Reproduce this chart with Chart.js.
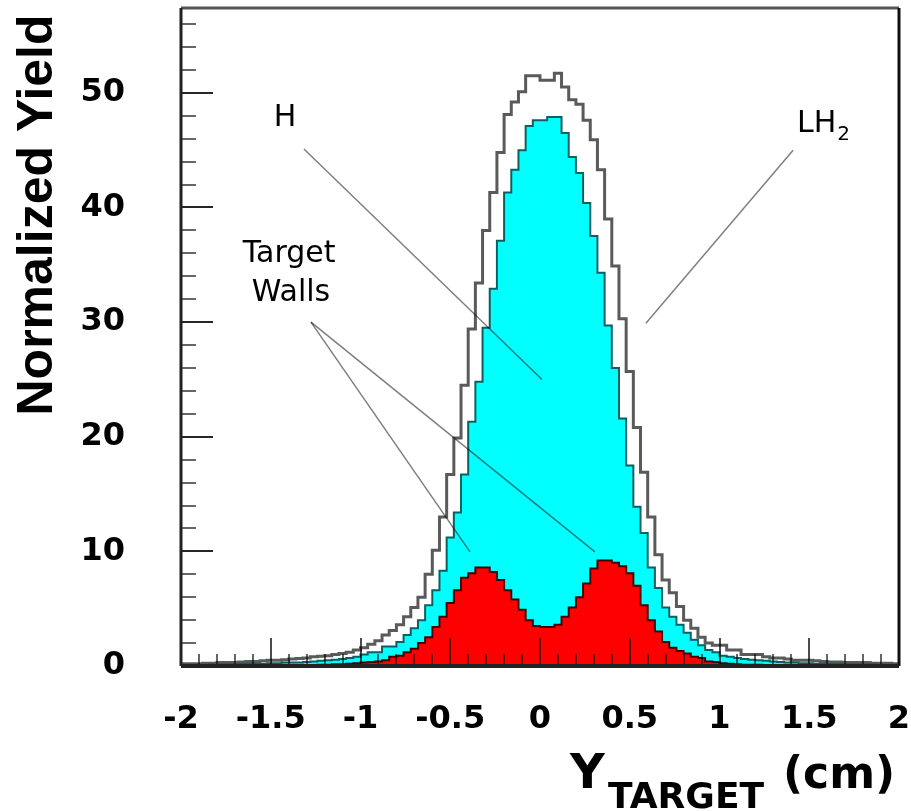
<!DOCTYPE html>
<html>
<head>
<meta charset="utf-8">
<script src="https://cdn.jsdelivr.net/npm/chart.js@4.4.0/dist/chart.umd.min.js"></script>
<style>
html,body{margin:0;padding:0;background:#fff;}
</style>
</head>
<body>
<canvas id="canvas1" width="911" height="811"></canvas>
<script>
// histogram binning (cm)
var xMin = -2, xMax = 2, binWidth = 0.04;
var xTicks = [-2, -1.5, -1, -0.5, 0, 0.5, 1, 1.5, 2];
var yTicks = [0, 10, 20, 30, 40, 50];
var yMax = 57.4;

// LH2 full target yield
var lh2 = [
	0.2, 0.2, 0.2, 0.25, 0.25, 0.3, 0.3, 0.3, 0.35, 0.4,
	0.4, 0.45, 0.5, 0.5, 0.55, 0.6, 0.65, 0.7, 0.8, 0.85,
	0.9, 1.0, 1.1, 1.2, 1.4, 1.6, 1.9, 2.2, 2.7, 3.1,
	3.6, 4.3, 5.1, 6.0, 8.0, 10.1, 13.0, 16.7, 19.9, 24.5,
	29.4, 33.4, 38.0, 41.3, 44.8, 48.1, 49.2, 50.1, 51.5, 51.5,
	51.1, 51.1, 51.7, 50.5, 49.4, 49.0, 47.6, 45.9, 43.3, 39.0,
	34.9, 30.3, 25.7, 20.8, 16.9, 13.0, 9.7, 7.5, 6.4, 5.2,
	4.0, 3.3, 2.5, 2.0, 1.8, 1.8, 1.4, 1.4, 1.0, 1.0,
	1.0, 0.8, 0.7, 0.7, 0.6, 0.5, 0.5, 0.5, 0.45, 0.4,
	0.35, 0.35, 0.3, 0.3, 0.3, 0.3, 0.25, 0.25, 0.25, 0.2
];
// H (hydrogen only)
var hydrogen = [
	0.1, 0.1, 0.1, 0.1, 0.15, 0.15, 0.15, 0.15, 0.2, 0.2,
	0.2, 0.2, 0.25, 0.25, 0.3, 0.3, 0.3, 0.35, 0.4, 0.45,
	0.5, 0.55, 0.6, 0.7, 0.8, 1.0, 1.2, 1.2, 1.7, 1.7,
	2.1, 2.7, 3.3, 4.0, 5.3, 6.6, 8.3, 11.2, 13.4, 16.7,
	21.3, 24.8, 29.5, 32.9, 37.1, 41.3, 43.3, 45.0, 47.1, 47.6,
	47.6, 47.9, 47.9, 46.5, 44.4, 43.0, 40.4, 37.5, 34.3, 29.7,
	26.0, 21.6, 17.5, 13.9, 11.6, 8.6, 6.8, 5.1, 4.3, 3.6,
	2.9, 2.3, 1.8, 1.4, 1.2, 0.9, 0.8, 0.7, 0.6, 0.55,
	0.5, 0.45, 0.4, 0.35, 0.3, 0.3, 0.25, 0.25, 0.2, 0.2,
	0.2, 0.2, 0.15, 0.15, 0.15, 0.15, 0.15, 0.1, 0.1, 0.1
];
// target walls (empty target)
var walls = [
	0.05, 0.05, 0.05, 0.05, 0.05, 0.05, 0.05, 0.05, 0.05, 0.05,
	0.05, 0.05, 0.05, 0.05, 0.05, 0.05, 0.05, 0.05, 0.05, 0.1,
	0.1, 0.15, 0.15, 0.2, 0.25, 0.3, 0.35, 0.4, 0.5, 0.8,
	0.9, 1.2, 1.5, 2.0, 2.5, 3.4, 4.3, 5.5, 6.6, 7.7,
	8.1, 8.6, 8.6, 8.2, 7.5, 6.6, 5.8, 4.9, 4.0, 3.5,
	3.4, 3.4, 3.6, 4.3, 5.1, 6.0, 7.2, 8.5, 9.2, 9.2,
	9.0, 8.7, 8.1, 7.0, 5.3, 4.0, 3.0, 2.1, 1.6, 1.3,
	1.1, 0.8, 0.7, 0.4, 0.35, 0.25, 0.2, 0.15, 0.1, 0.1,
	0.1, 0.05, 0.05, 0.05, 0.05, 0.05, 0.05, 0.05, 0.05, 0.05,
	0.05, 0.05, 0.05, 0.05, 0.05, 0.05, 0.05, 0.05, 0.05, 0.05
];

// callout lines in data units [x1, y1, x2, y2]
var callouts = [
	[-1.315, 45.1, 0.011, 25.0],
	[1.41, 45.0, 0.59, 29.9],
	[-1.276, 30.0, 0.306, 9.95],
	[-1.276, 30.0, -0.39, 9.95]
];

/**
 * bin contents -> step points at bin left edges
 */
function toPoints(vals){
	var pts = [];
	for (var i = 0; i < vals.length; i++) {
		pts.push({x: xMin + i*binWidth, y: vals[i]});
	}
	pts.push({x: xMax, y: vals[vals.length-1]});
	return pts;
}

var whiteBg = {
	id: 'whiteBg',
	beforeDraw: function(chart){
		var ctx = chart.ctx;
		ctx.save();
		ctx.fillStyle = '#fff';
		ctx.fillRect(0, 0, chart.width, chart.height);
		ctx.restore();
	}
};

// pin the frame where the original pad has it
var fixedArea = {
	id: 'fixedArea',
	afterLayout: function(chart){
		var a = chart.chartArea;
		var L = 181, R = 899, T = 8, B = 666;
		a.left = L; a.right = R; a.top = T; a.bottom = B;
		a.width = R - L; a.height = B - T;
		var xs = chart.scales.x, ys = chart.scales.y;
		xs.left = L; xs.right = R; xs.width = R - L;
		xs.top = B; xs.bottom = chart.height; xs.height = chart.height - B;
		ys.left = 0; ys.right = L; ys.width = L;
		ys.top = T; ys.bottom = B; ys.height = B - T;
		xs.configure();
		ys.configure();
	}
};

// ROOT style frame and inside ticks
var frameTicks = {
	id: 'frameTicks',
	afterDatasetsDraw: function(chart){
		var ctx = chart.ctx, a = chart.chartArea;
		var xs = chart.scales.x, ys = chart.scales.y;
		ctx.save();
		ctx.lineWidth = 2;
		var i, v, p;
		for (i = 0; i <= 40; i++) {
			v = xMin + i*0.1;
			p = Math.round(xs.getPixelForValue(v));
			var major = (i % 5 == 0);
			ctx.strokeStyle = major ? 'rgba(0,0,0,0.7)' : 'rgba(0,0,0,0.6)';
			ctx.beginPath();
			ctx.moveTo(p, a.bottom);
			ctx.lineTo(p, a.bottom - (major ? 28 : 12));
			ctx.stroke();
		}
		for (i = 0; i <= 28; i++) {
			v = i*2;
			p = Math.round(ys.getPixelForValue(v));
			var majorY = (v % 10 == 0);
			ctx.strokeStyle = majorY ? 'rgba(0,0,0,0.85)' : 'rgba(0,0,0,0.6)';
			ctx.beginPath();
			ctx.moveTo(a.left, p);
			ctx.lineTo(a.left + (majorY ? 32 : 15), p);
			ctx.stroke();
		}
		ctx.lineWidth = 3;
		ctx.strokeStyle = '#555';
		ctx.beginPath(); ctx.moveTo(a.left, a.top); ctx.lineTo(a.right, a.top); ctx.stroke();
		ctx.strokeStyle = '#111';
		ctx.beginPath(); ctx.moveTo(a.right, a.top); ctx.lineTo(a.right, a.bottom); ctx.stroke();
		ctx.strokeStyle = '#222';
		ctx.beginPath(); ctx.moveTo(a.left, a.top); ctx.lineTo(a.left, a.bottom); ctx.stroke();
		ctx.lineWidth = 4;
		ctx.beginPath(); ctx.moveTo(a.left, a.bottom); ctx.lineTo(a.right, a.bottom); ctx.stroke();
		ctx.restore();
	}
};

// labels, callout lines and axis titles
var notes = {
	id: 'notes',
	afterDraw: function(chart){
		var ctx = chart.ctx;
		var xs = chart.scales.x, ys = chart.scales.y;
		ctx.save();
		ctx.strokeStyle = 'rgba(0,0,0,0.5)';
		ctx.lineWidth = 1.5;
		for (var i = 0; i < callouts.length; i++) {
			var c = callouts[i];
			ctx.beginPath();
			ctx.moveTo(xs.getPixelForValue(c[0]), ys.getPixelForValue(c[1]));
			ctx.lineTo(xs.getPixelForValue(c[2]), ys.getPixelForValue(c[3]));
			ctx.stroke();
		}
		ctx.fillStyle = '#000';
		ctx.font = '30px "DejaVu Sans"';
		ctx.textAlign = 'center';
		ctx.textBaseline = 'middle';
		ctx.fillText('H', xs.getPixelForValue(-1.42), ys.getPixelForValue(47.8));
		ctx.fillText('Target', xs.getPixelForValue(-1.398), ys.getPixelForValue(35.95));
		ctx.fillText('Walls', xs.getPixelForValue(-1.387), ys.getPixelForValue(32.5));
		ctx.textAlign = 'left';
		ctx.textBaseline = 'alphabetic';
		var lx = xs.getPixelForValue(1.432), ly = ys.getPixelForValue(46.6);
		ctx.fillText('LH', lx, ly);
		var w = ctx.measureText('LH').width;
		ctx.font = '20px "DejaVu Sans"';
		ctx.fillText('2', lx + w + 1, ly + 8);

		// y title
		ctx.save();
		ctx.translate(38, 215);
		ctx.rotate(-Math.PI/2);
		ctx.font = 'bold 50px "Liberation Sans"';
		ctx.textAlign = 'center';
		ctx.textBaseline = 'middle';
		ctx.fillText('Normalized Yield', 0, 0);
		ctx.restore();

		// x title
		ctx.textAlign = 'left';
		ctx.textBaseline = 'alphabetic';
		ctx.font = 'bold 48px "DejaVu Sans"';
		ctx.fillText('Y', 570, 788);
		ctx.font = 'bold 36px "DejaVu Sans"';
		ctx.fillText('TARGET', 608, 808);
		ctx.font = 'bold 44px "DejaVu Sans"';
		ctx.fillText('(cm)', 783, 788);
		ctx.restore();
	}
};

var tickFont = {family: 'DejaVu Sans', weight: 'bold', size: 32};

var config = {
	type: 'line',
	data: {
		datasets: [{
			label: 'Target Walls',
			data: toPoints(walls),
			stepped: true,
			fill: 'origin',
			backgroundColor: '#ff0000',
			borderColor: '#4a0000',
			borderWidth: 2,
			pointRadius: 0
		}, {
			label: 'H',
			data: toPoints(hydrogen),
			stepped: true,
			fill: 'origin',
			backgroundColor: '#00ffff',
			borderColor: '#0e5f5f',
			borderWidth: 2,
			pointRadius: 0
		}, {
			label: 'LH2',
			data: toPoints(lh2),
			stepped: true,
			fill: false,
			borderColor: '#5a5a5a',
			borderWidth: 3,
			pointRadius: 0
		}]
	},
	options: {
		responsive: false,
		animation: false,
		devicePixelRatio: 1,
		plugins: {
			legend: {display: false},
			tooltip: {enabled: false}
		},
		scales: {
			x: {
				type: 'linear',
				min: xMin,
				max: xMax,
				afterBuildTicks: function(s){ s.ticks = xTicks.map(function(v){ return {value: v}; }); },
				grid: {display: false},
				border: {display: false},
				ticks: {
					font: tickFont,
					color: '#000',
					padding: 26,
					maxRotation: 0,
					autoSkip: false,
					callback: function(v){ return String(v); }
				}
			},
			y: {
				type: 'linear',
				min: 0,
				max: yMax,
				afterBuildTicks: function(s){ s.ticks = yTicks.map(function(v){ return {value: v}; }); },
				grid: {display: false},
				border: {display: false},
				ticks: {
					font: tickFont,
					color: '#000',
					padding: 48,
					callback: function(v){ return String(v); }
				}
			}
		}
	},
	plugins: [whiteBg, fixedArea, frameTicks, notes]
};

var ctx1 = document.getElementById("canvas1").getContext("2d");
window.myLine1 = new Chart(ctx1, config);
</script>
</body>
</html>
